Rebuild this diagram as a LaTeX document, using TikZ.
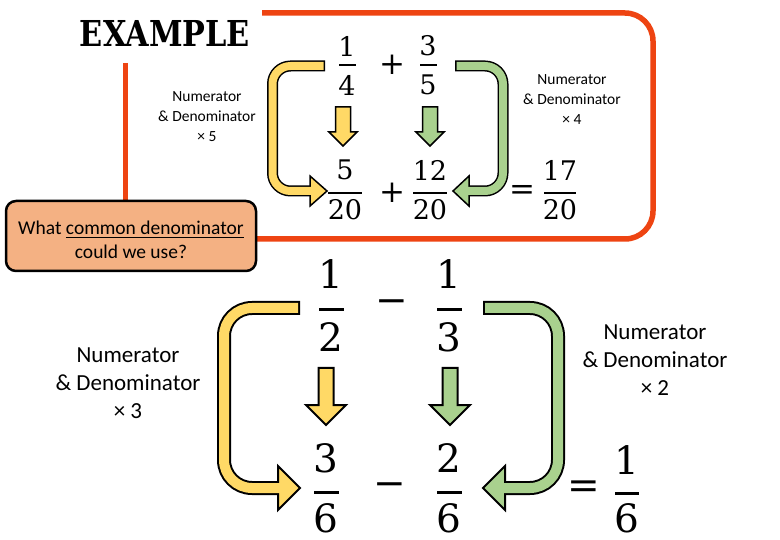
\documentclass[tikz,border=0pt]{standalone}
\usepackage{fontspec}
\newfontfamily\calibrifont{Carlito}
\newfontfamily\titlefont{DejaVu Serif}
\newfontfamily\digfont{DejaVu Serif}
\definecolor{yel}{HTML}{FFD966}
\definecolor{grn}{HTML}{A9D18E}
\definecolor{fr}{HTML}{EE4412}
\definecolor{callfill}{HTML}{F4B183}
\newcommand\myul[1]{\setbox0\hbox{#1}\rlap{\rule[-3.2pt]{\wd0}{1.4pt}}\box0}
% fraction: name x ynum ybar yden num den barwidth style
\newcommand\frc[9]{%
  \node[#9] (#1n) at (#2,#3) {#6};
  \node[bar #9, minimum width=#8pt] (#1b) at (#2,#4) {};
  \node[#9] (#1d) at (#2,#5) {#7};}
% down block arrow: x top base tip shafthalf headhalf colour linewidth
\newcommand\dnarr[8]{%
  \draw[line width=#8pt, line join=miter, fill=#7] ({#1-#5},#2) -- ({#1+#5},#2) -- ({#1+#5},#3) -- ({#1+#6},#3) -- (#1,#4) -- ({#1-#6},#3) -- ({#1-#5},#3) -- cycle;}
\begin{document}
\begin{tikzpicture}[x=1pt,y=-1pt,
  frame/.style={line width=5.5pt, draw=fr},
  lbl/.style={align=center, inner sep=0pt, font=\calibrifont\fontsize{15.5}{20}\selectfont},
  lblbig/.style={align=center, inner sep=0pt, font=\calibrifont\fontsize{23}{28}\selectfont},
  dS/.style={inner sep=0pt, font=\digfont\fontsize{27}{27}\selectfont},
  dB/.style={inner sep=0pt, font=\digfont\fontsize{39}{39}\selectfont},
  bar/.style={rectangle, fill=black, inner sep=0pt},
  bar dS/.style={bar, minimum height=2pt},
  bar dB/.style={bar, minimum height=3pt},
  opS/.style={inner sep=0pt, font=\digfont\fontsize{31}{31}\selectfont},
  opB/.style={inner sep=0pt, font=\digfont\fontsize{39}{39}\selectfont},
  callout/.style={draw=black, line width=2.5pt, fill=callfill, rounded corners=10pt,
     minimum width=250pt, minimum height=70pt, align=center, inner sep=0pt,
     font=\calibrifont\fontsize{19.5}{24}\selectfont},
  title/.style={inner sep=0pt},
]
\useasboundingbox (0,0) rectangle (780,540);
% ---------- frame ----------
\draw[frame, rounded corners=28pt] (262,13) -- (653,13) -- (653,239) -- (257,239);
\draw[frame] (125.5,63) -- (125.5,201);
% ---------- title ----------
\node[title] (ttl) at (165,34) {\resizebox{170pt}{26pt}{\titlefont\bfseries EXAMPLE}};
% ---------- callout ----------
\node[callout] (q) at (131,236) {\rule{0pt}{22pt}What \myul{common denominator}\\could we use?};
% ---------- top example ----------
\frc{a}{347}{46}{65}{85}{1}{4}{17}{dS}
\frc{b}{428}{46}{65}{85}{3}{5}{17}{dS}
\node[opS] (pa) at (392,65) {+};
\frc{c}{345}{170}{193}{210}{5}{20}{34}{dS}
\frc{d}{430}{170}{193}{210}{12}{20}{34}{dS}
\node[opS] (pb) at (392,193) {+};
\node[opS] (ea) at (522,192) {=};
\frc{e}{560}{170}{193}{210}{17}{20}{32}{dS}
\dnarr{343}{107}{132}{146}{7.5}{14}{yel}{1.5}
\dnarr{430}{107}{132}{146}{7.5}{14}{grn}{1.5}
% yellow curved top
\coordinate (ya0) at (325,66);
\coordinate (ya1) at (272.5,66);
\coordinate (ya2) at (272.5,191);
\coordinate (ya3) at (312,191);
\draw[line width=11pt, rounded corners=18pt] (ya0) -- (ya1) -- (ya2) -- (ya3);
\draw[line width=1.5pt, fill=yel] (310,176) -- (327,191) -- (310,206) -- cycle;
\draw[line width=8pt, yel, rounded corners=18pt] ([xshift=-1.5pt]ya0) -- (ya1) -- (ya2) -- (ya3);
% green curved top
\coordinate (ga0) at (455,66);
\coordinate (ga1) at (503,66);
\coordinate (ga2) at (503,191);
\coordinate (ga3) at (467,191);
\draw[line width=11pt, rounded corners=18pt] (ga0) -- (ga1) -- (ga2) -- (ga3);
\draw[line width=1.5pt, fill=grn] (469,176) -- (453,191) -- (469,206) -- cycle;
\draw[line width=8pt, grn, rounded corners=18pt] ([xshift=1.5pt]ga0) -- (ga1) -- (ga2) -- (ga3);
\node[lbl] (la) at (207,117) {Numerator\\\& Denominator\\× 5};
\node[lbl] (lb) at (572,100) {Numerator\\\& Denominator\\× 4};
% ---------- bottom example ----------
\frc{f}{331}{274}{310}{337}{1}{2}{25}{dB}
\frc{g}{449}{274}{310}{337}{1}{3}{25}{dB}
\node[opB] (ma) at (392,307) {−};
\frc{h}{326}{458}{492}{518}{3}{6}{25}{dB}
\frc{i}{449}{458}{492}{518}{2}{6}{25}{dB}
\node[opB] (mb) at (390,490) {−};
\node[opB] (eb) at (584,490) {=};
\frc{j}{627}{460}{493}{518}{1}{6}{24}{dB}
\dnarr{326}{368}{405}{425}{7.5}{20}{yel}{2}
\dnarr{450}{368}{405}{425}{7.5}{20}{grn}{2}
% yellow curved bottom
\coordinate (yb0) at (300,308);
\coordinate (yb1) at (224,308);
\coordinate (yb2) at (224,488);
\coordinate (yb3) at (281,488);
\draw[line width=14pt, rounded corners=28pt] (yb0) -- (yb1) -- (yb2) -- (yb3);
\draw[line width=2pt, fill=yel] (278,466) -- (300,488) -- (278,510) -- cycle;
\draw[line width=10pt, yel, rounded corners=28pt] ([xshift=-2pt]yb0) -- (yb1) -- (yb2) -- (yb3);
% green curved bottom
\coordinate (gb0) at (483,308);
\coordinate (gb1) at (558,308);
\coordinate (gb2) at (558,488);
\coordinate (gb3) at (502,488);
\draw[line width=14pt, rounded corners=28pt] (gb0) -- (gb1) -- (gb2) -- (gb3);
\draw[line width=2pt, fill=grn] (505,466) -- (483,488) -- (505,510) -- cycle;
\draw[line width=10pt, grn, rounded corners=28pt] ([xshift=2pt]gb0) -- (gb1) -- (gb2) -- (gb3);
\node[lblbig] (lc) at (128,383) {Numerator\\\& Denominator\\× 3};
\node[lblbig] (ld) at (655,360) {Numerator\\\& Denominator\\× 2};
\end{tikzpicture}
\end{document}
